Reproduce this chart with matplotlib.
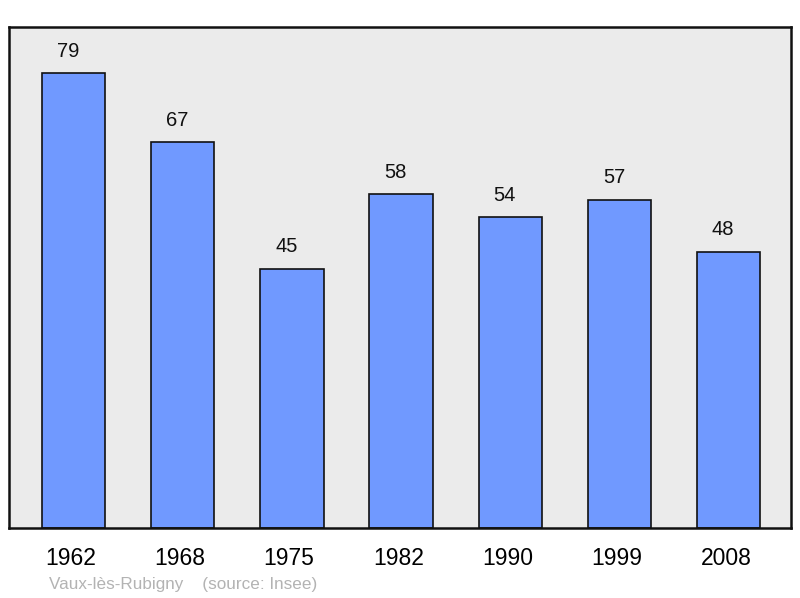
import matplotlib.pyplot as plt
import matplotlib.transforms as mtransforms

plt.rcParams['font.family'] = ['Liberation Sans', 'DejaVu Sans']

# population data
years = ['1962', '1968', '1975', '1982', '1990', '1999', '2008']
population = [79, 67, 45, 58, 54, 57, 48]

fig = plt.figure(figsize=(8, 5.98), dpi=100)
ax = fig.add_axes([9 / 800, 70 / 598, 782 / 800, 501 / 598])
ax.set_facecolor('#ebebeb')

x = range(len(years))
ax.bar(x, population, width=0.58, color='#7099ff', edgecolor='#111111', linewidth=1.2, zorder=2)

for xi, v in zip(x, population):
    ax.annotate(str(v), (xi, v), xytext=(-4, 9), textcoords='offset points',
                ha='center', va='bottom', fontsize=14.5, color='#111111')

ax.set_xlim(-0.59, 6.57)
ax.set_ylim(0, 87)
ax.set_xticks(list(x))
ax.set_xticklabels(years, fontsize=16.5)
ax.tick_params(axis='x', length=0, pad=14)
# nudge year labels slightly left
shift = mtransforms.ScaledTranslation(-2 / 72, 0, fig.dpi_scale_trans)
for lbl in ax.get_xticklabels():
    lbl.set_transform(lbl.get_transform() + shift)
ax.set_yticks([])
for s in ax.spines.values():
    s.set_linewidth(1.8)
    s.set_color('#111111')

fig.text(49 / 800, 1 - 584 / 598, 'Vaux-lès-Rubigny    (source: Insee)',
         fontsize=12.3, color='#b3b3b3', ha='left', va='center')

fig.savefig('out.png', dpi=100)
